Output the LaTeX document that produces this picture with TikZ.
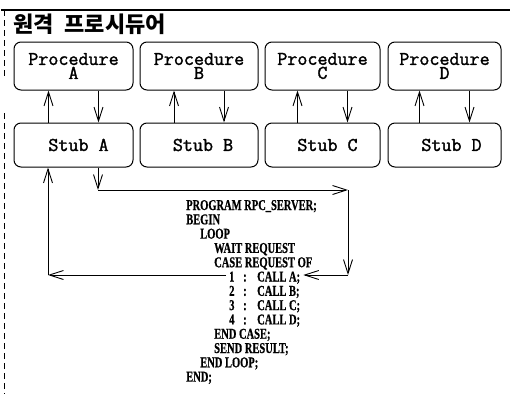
\documentclass[tikz,border=0pt]{standalone}
\usepackage{fontspec}
\newfontfamily\krfont{Noto Sans CJK KR}
\newfontfamily\codefont[FakeBold=0.8]{Liberation Serif Bold}
\newfontfamily\boxfont[FakeBold=1.6]{Latin Modern Mono}
\usetikzlibrary{arrows.meta}
\newcommand\cs[1]{\scalebox{0.7}[1]{#1}}
\begin{document}
\begin{tikzpicture}[x=1pt,y=-1pt,
 box/.style={draw, line width=1pt, rounded corners=7pt, font=\fontsize{19.5}{14}\selectfont\boxfont, align=center, inner sep=0pt},
 proc/.style={box, minimum height=48pt},
 stub/.style={box, minimum height=44pt},
 arr/.style={line width=0.9pt, -{Straight Barb[length=14pt,width=9pt,line width=0.9pt]}},
 code/.style={anchor=west, inner sep=0pt, font=\fontsize{15}{14}\selectfont\codefont, text height=10pt, text depth=0pt}
]
\useasboundingbox (0,0) rectangle (510,394);
% frame
\draw[line width=1.8pt] (1,10) -- (510,10);
\draw[line width=0.8pt, dash pattern=on 6pt off 4pt] (4,10) -- (4,78);
\draw[line width=0.8pt, dash pattern=on 6pt off 4pt] (4,113) -- (4,394);
% title
\node[anchor=west, inner sep=0pt, font=\fontsize{22}{22}\selectfont\krfont\bfseries] (title) at (13,24) {원격\hspace{11pt}프로시듀어};
% procedures
\node[proc, minimum width=119pt] (pA) at (73.5,66) {Procedure\\A};
\node[proc, minimum width=118pt] (pB) at (199,66) {Procedure\\B};
\node[proc, minimum width=115pt] (pC) at (322.5,66) {Procedure\\C};
\node[proc, minimum width=113pt] (pD) at (444.5,66) {Procedure\\D};
% stubs
\node[stub, minimum width=119pt] (sA) at (73.5,145) {\hspace*{10pt}Stub A};
\node[stub, minimum width=118pt] (sB) at (199,145) {\hspace*{8pt}Stub B};
\node[stub, minimum width=115pt] (sC) at (322.5,145) {\hspace*{10pt}Stub C};
\node[stub, minimum width=113pt] (sD) at (444.5,145) {\hspace*{14pt}Stub D};
% vertical arrows
\foreach \n in {A,B,C,D}{
  \draw[arr] ([xshift=-25pt]s\n.north) -- ([xshift=-25pt]p\n.south);
  \draw[arr] ([xshift=25pt]p\n.south) -- ([xshift=25pt]s\n.north);
}
% code
\node[code] (l0) at (186,205) {\cs{PROGRAM RPC\_SERVER;}};
\node[code] (l1) at (186,219.3) {\cs{BEGIN}};
\node[code] (l2) at (200,233.6) {\cs{LOOP}};
\node[code] (l3) at (214,247.9) {\cs{WAIT REQUEST}};
\node[code] (l4) at (214,262.2) {\cs{CASE REQUEST OF}};
\node[code] (l5) at (229,276.5) {\makebox[14pt][l]{\cs{1}}\makebox[14pt][l]{\cs{:}}\cs{CALL A;}};
\node[code] (l6) at (229,290.8) {\makebox[14pt][l]{\cs{2}}\makebox[14pt][l]{\cs{:}}\cs{CALL B;}};
\node[code] (l7) at (229,305.1) {\makebox[14pt][l]{\cs{3}}\makebox[14pt][l]{\cs{:}}\cs{CALL C;}};
\node[code] (l8) at (229,319.4) {\makebox[14pt][l]{\cs{4}}\makebox[14pt][l]{\cs{:}}\cs{CALL D;}};
\node[code] (l9) at (214,333.7) {\cs{END CASE;}};
\node[code] (l10) at (214,348) {\cs{SEND RESULT;}};
\node[code] (l11) at (200,362.3) {\cs{END LOOP;}};
\node[code] (l12) at (186,376.6) {\cs{END;}};
% loop connectors
\coordinate (c1) at (98,190);
\coordinate (c2) at (348,190);
\coordinate (c3) at (348,275);
\coordinate (c4) at (48,275);
\draw[arr] (sA.south -| c1) -- (c1);
\draw[arr] (c1) -- (c2);
\draw[arr] (c2) -- (c3);
\draw[arr] (c3) -- ([xshift=3pt]l5.east |- c3);
\draw[arr] ([xshift=-3pt]l5.west |- c4) -- (c4);
\draw[arr] (c4) -- (sA.south -| c4);
\end{tikzpicture}
\end{document}
